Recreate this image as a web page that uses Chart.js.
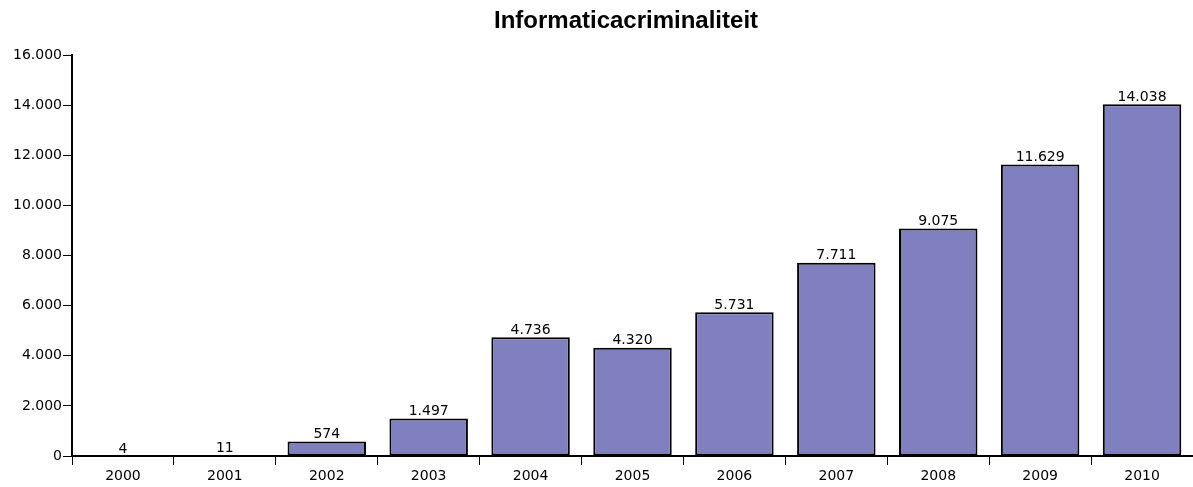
<!DOCTYPE html>
<html>
<head>
<meta charset="utf-8">
<script src="https://cdn.jsdelivr.net/npm/chart.js@4"></script>
<style>
  html, body { margin: 0; padding: 0; background: #fff; }
  canvas { display: block; }
</style>
</head>
<body>
<canvas id="chartCriminaliteit" width="1193" height="487"></canvas>
<script>
const jaren = ['2000', '2001', '2002', '2003', '2004', '2005', '2006', '2007', '2008', '2009', '2010'];
const aantallen = [4, 11, 574, 1497, 4736, 4320, 5731, 7711, 9075, 11629, 14038];
const titel = 'Informaticacriminaliteit';

const fmt = v => String(v).replace(/\B(?=(\d{3})+(?!\d))/g, '.');
const lettertype = '"DejaVu Sans", Verdana, sans-serif';

// waarden boven de staven
const labelsPlugin = {
    id: 'labels',
    afterDatasetsDraw(chart) {
        const c = chart.ctx;
        const meta = chart.getDatasetMeta(0);
        c.save();
        c.font = '14px ' + lettertype;
        c.fillStyle = '#000';
        c.textAlign = 'center';
        c.textBaseline = 'bottom';
        meta.data.forEach((bar, i) => {
            c.fillText(fmt(aantallen[i]), bar.x, bar.y);
        });
        c.restore();
    }
};

const titelPlugin = {
    id: 'titel',
    afterDraw(chart) {
        const c = chart.ctx;
        c.save();
        c.font = 'bold 24px "Liberation Sans", Arial, sans-serif';
        c.fillStyle = '#000';
        c.textAlign = 'center';
        c.textBaseline = 'middle';
        c.fillText(titel, 626, 21);
        c.restore();
    }
};

const ctx = document.getElementById('chartCriminaliteit').getContext('2d');
const chart = new Chart(ctx, {
    type: 'bar',
    data: {
        labels: jaren,
        datasets: [{
            data: aantallen,
            backgroundColor: '#8080c0',
            borderColor: '#000',
            borderWidth: 2,
            borderSkipped: false,
            barPercentage: 0.77,
            categoryPercentage: 1
        }]
    },
    options: {
        responsive: false,
        animation: false,
        layout: { padding: { top: 55, right: 0, left: 0, bottom: 0 } },
        plugins: {
            legend: { display: false },
            title: { display: false },
            tooltip: { enabled: false }
        },
        scales: {
            x: {
                offset: true,
                grid: {
                    offset: true,
                    drawOnChartArea: false,
                    color: '#000',
                    tickLength: 9
                },
                border: { color: '#000', width: 2 },
                ticks: {
                    color: '#000',
                    padding: 3,
                    font: { family: lettertype, size: 14 }
                },
                afterFit(scale) { scale.height = 31; }
            },
            y: {
                min: 0,
                max: 16000,
                grid: {
                    drawOnChartArea: false,
                    color: '#000',
                    tickLength: 9
                },
                border: { color: '#000', width: 2 },
                ticks: {
                    stepSize: 2000,
                    color: '#000',
                    padding: 1,
                    font: { family: lettertype, size: 14 },
                    callback: v => fmt(v)
                },
                afterFit(scale) { scale.width = 72; }
            }
        }
    },
    plugins: [labelsPlugin, titelPlugin]
});
</script>
</body>
</html>
